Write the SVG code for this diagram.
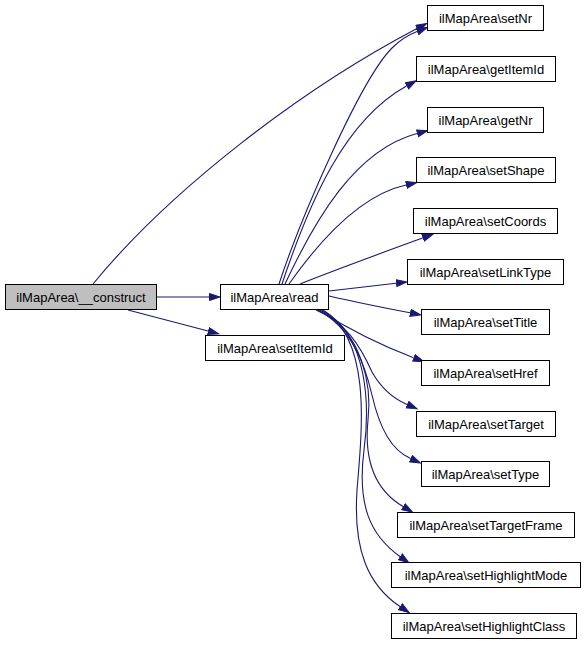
<svg xmlns="http://www.w3.org/2000/svg" width="584" height="645" viewBox="0 0 584 645">
<style>
.n rect{fill:#fff;stroke:#000;stroke-width:1}
.n.g rect{fill:#bfbfbf}
.n text{font-family:"Liberation Sans",Arial,sans-serif;font-size:13px;text-anchor:middle;fill:#000}
.e path{fill:none;stroke:#191970;stroke-width:1.1;marker-end:url(#a)}
</style>
<defs>
<marker id="a" markerUnits="userSpaceOnUse" markerWidth="13" markerHeight="10" refX="0" refY="4" orient="auto">
<path d="M0.5,0.5 L11,4 L0.5,7.5 z" fill="#191970" stroke="#191970" stroke-width="1"/>
</marker>
</defs>
<rect width="584" height="645" fill="#fff"/>
<g id="edges" class="e">
<path d="M157,297 L209,297"/>
<path d="M128,310 L208,331"/>
<path d="M93,284 C170,190 300,90 417,28.5"/>
<path d="M279,284 C300,220 360,80 392,48 C400,40 408,35 417,31.5"/>
<path d="M282,284 C310,200 345,120 406.5,86"/>
<path d="M285,284 C315,220 355,150 417,133.5"/>
<path d="M289,284 C320,240 360,195 406,185"/>
<path d="M300,284 C340,268 390,250 422.6,238"/>
<path d="M329,291 L396,283.2"/>
<path d="M329,296 C355,302 385,308 410,312.8"/>
<path d="M318,310 C350,330 380,345 413.5,357.7"/>
<path d="M316,310 C345,322 360,345 372,372 C381,388 392,398 407,404.5"/>
<path d="M318,310 C352,328 365,365 372,395 C380,430 392,450 410.5,458.5"/>
<path d="M320,310 C362,332 372,385 368,420 C364,460 375,490 403,506.5"/>
<path d="M322,310 C368,335 370,405 364,450 C357,505 370,535 400,556.5"/>
<path d="M323,310 C372,340 362,430 357,490 C353,550 368,585 400,606.5"/>
</g>
<g id="construct" class="n g"><rect x="5.5" y="284.5" width="151" height="25"/><text x="81" y="302">ilMapArea\__construct</text></g>
<g id="read" class="n"><rect x="220.5" y="284.5" width="108" height="25"/><text x="274.5" y="302">ilMapArea\read</text></g>
<g id="setItemId" class="n"><rect x="205.5" y="335.5" width="139" height="25"/><text x="275" y="353">ilMapArea\setItemId</text></g>
<g id="setNr" class="n"><rect x="427.5" y="5.5" width="116" height="25"/><text x="485.5" y="23">ilMapArea\setNr</text></g>
<g id="getItemId" class="n"><rect x="416.5" y="56.5" width="139" height="25"/><text x="486" y="74">ilMapArea\getItemId</text></g>
<g id="getNr" class="n"><rect x="427.5" y="107.5" width="116" height="25"/><text x="485.5" y="125">ilMapArea\getNr</text></g>
<g id="setShape" class="n"><rect x="416.5" y="157.5" width="139" height="25"/><text x="486" y="175">ilMapArea\setShape</text></g>
<g id="setCoords" class="n"><rect x="413.5" y="208.5" width="144" height="25"/><text x="485.5" y="226">ilMapArea\setCoords</text></g>
<g id="setLinkType" class="n"><rect x="407.5" y="259.5" width="156" height="25"/><text x="485.5" y="277">ilMapArea\setLinkType</text></g>
<g id="setTitle" class="n"><rect x="421.5" y="309.5" width="128" height="25"/><text x="485.5" y="327">ilMapArea\setTitle</text></g>
<g id="setHref" class="n"><rect x="421.5" y="360.5" width="128" height="25"/><text x="485.5" y="378">ilMapArea\setHref</text></g>
<g id="setTarget" class="n"><rect x="416.5" y="411.5" width="139" height="25"/><text x="486" y="429">ilMapArea\setTarget</text></g>
<g id="setType" class="n"><rect x="421.5" y="461.5" width="128" height="25"/><text x="485.5" y="479">ilMapArea\setType</text></g>
<g id="setTargetFrame" class="n"><rect x="397.5" y="512.5" width="177" height="25"/><text x="486" y="530">ilMapArea\setTargetFrame</text></g>
<g id="setHighlightMode" class="n"><rect x="391.5" y="562.5" width="189" height="25"/><text x="486" y="580">ilMapArea\setHighlightMode</text></g>
<g id="setHighlightClass" class="n"><rect x="391.5" y="613.5" width="185" height="25"/><text x="484" y="631">ilMapArea\setHighlightClass</text></g>
</svg>
